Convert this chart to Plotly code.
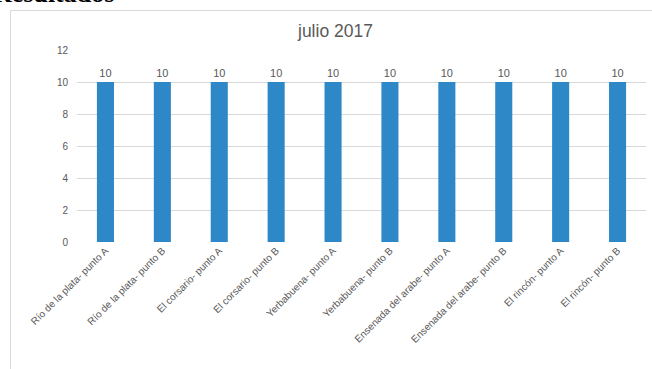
import plotly.graph_objects as go

categories = [
    "Río de la plata- punto A", "Río de la plata- punto B",
    "El corsario- punto A", "El corsario- punto B",
    "Yerbabuena- punto A", "Yerbabuena- punto B",
    "Ensenada del arabe- punto A", "Ensenada del arabe- punto B",
    "El rincón- punto A", "El rincón- punto B",
]
values = [10, 10, 10, 10, 10, 10, 10, 10, 10, 10]
y_ticks = [0, 2, 4, 6, 8, 10, 12]
title_text = "julio 2017"
heading_text = "Resultados"

W, H = 652, 369
# plot area in page pixels
PL, PR, PT, PB = 77, 646, 50, 242
L, R, T, B = PL, W - PR, PT, H - PB
pw, ph = W - L - R, H - T - B

def px_x(px):
    return (px - L) / pw

def px_y(py):
    return (H - B - py) / ph

fig = go.Figure(go.Bar(
    x=categories, y=values,
    marker=dict(color="#2E88C8", line=dict(width=0)),
    width=0.3,
    text=[str(v) for v in values], textposition="outside",
    textfont=dict(size=11, color="#595959", family="Liberation Sans"),
    cliponaxis=False,
))

fig.update_layout(
    width=W, height=H,
    margin=dict(l=L, r=R, t=T, b=B, autoexpand=False),
    paper_bgcolor="white", plot_bgcolor="white",
    font=dict(family="Liberation Sans", color="#595959", size=10),
    showlegend=False,
    xaxis=dict(tickangle=-45, showgrid=False, showline=False, ticks="",
               automargin=False,
               tickfont=dict(size=10, color="#595959")),
    yaxis=dict(range=[0, 12], tickvals=y_ticks, showgrid=True,
               gridcolor="#D9D9D9", gridwidth=1, zeroline=False,
               showline=False, ticks="", ticklen=0, ticklabelstandoff=8,
               automargin=False,
               tickfont=dict(size=10, color="#595959")),
    shapes=[dict(type="rect", xref="paper", yref="paper",
                 x0=px_x(10.5), x1=px_x(700), y0=px_y(400), y1=px_y(10.5),
                 line=dict(color="#D9D9D9", width=1), layer="below")],
    annotations=[
        dict(text=title_text, xref="paper", yref="paper",
             x=px_x(335), y=px_y(31), xanchor="center", yanchor="middle",
             showarrow=False, font=dict(size=17.5, color="#595959", family="Liberation Sans")),
        dict(text="<b>" + heading_text + "</b>", xref="paper", yref="paper",
             x=px_x(116), y=px_y(10), xanchor="right", yanchor="bottom",
             showarrow=False, font=dict(size=26, color="black", family="Liberation Serif")),
    ],
)

fig.write_html("out.html", config={"displayModeBar": False},
               post_script="document.body.style.margin='0';document.body.style.padding='0';")
